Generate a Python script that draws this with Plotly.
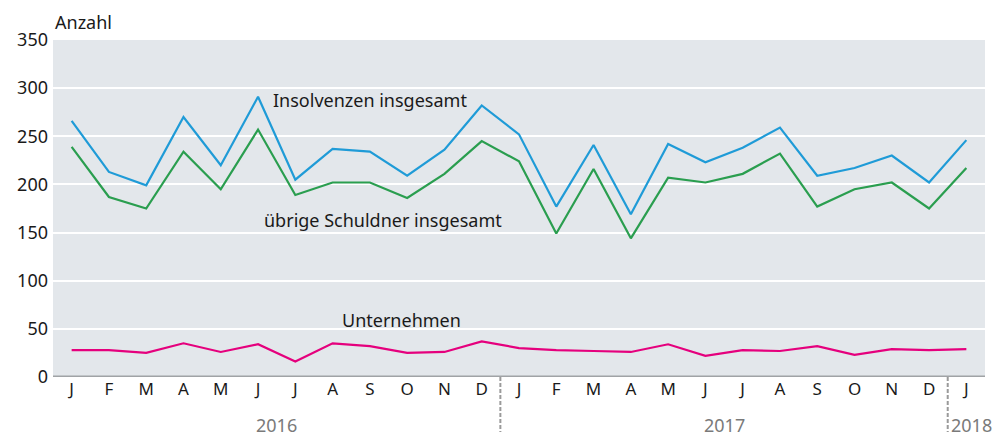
import plotly.graph_objects as go

months = ["J","F","M","A","M","J","J","A","S","O","N","D",
          "J","F","M","A","M","J","J","A","S","O","N","D","J"]
years = ["2016", "2017", "2018"]
insolvenzen = [266,213,199,270,220,291,205,237,234,209,236,282,
               252,177,241,169,242,223,238,259,209,217,230,202,246]
uebrige = [239,187,175,234,195,257,189,202,202,186,211,245,
           224,149,216,144,207,202,211,232,177,195,202,175,217]
unternehmen = [28,28,25,35,26,34,16,35,32,25,26,37,
               30,28,27,26,34,22,28,27,32,23,29,28,29]

x = list(range(len(months)))
FONT = "Source Sans Pro, Noto Sans"

fig = go.Figure()
fig.add_trace(go.Scatter(x=x, y=insolvenzen, mode="lines",
                         line=dict(color="#1f9bd7", width=2.2), hoverinfo="skip"))
fig.add_trace(go.Scatter(x=x, y=uebrige, mode="lines",
                         line=dict(color="#2a9e4f", width=2.2), hoverinfo="skip"))
fig.add_trace(go.Scatter(x=x, y=unternehmen, mode="lines",
                         line=dict(color="#e5007d", width=2.2), hoverinfo="skip"))

# page body has an 8px margin: compensate so the plot lands where the reference has it
fig.update_layout(
    width=985, height=428,
    margin=dict(l=45, r=8, t=32, b=59),
    paper_bgcolor="white", plot_bgcolor="#e3e7eb",
    showlegend=False,
    font=dict(family=FONT, size=16, color="#1a1a1a"),
)
fig.update_xaxes(range=[-0.5, len(months) - 0.5], tickmode="array",
                 tickvals=x, ticktext=months, showgrid=False, zeroline=False,
                 showline=False, ticks="", tickfont=dict(size=17),
                 ticklabelstandoff=0)
fig.update_yaxes(range=[0, 350], tickvals=[0,50,100,150,200,250,300,350],
                 showgrid=True, gridcolor="white", gridwidth=2,
                 zeroline=False, showline=False, ticks="",
                 tickfont=dict(size=18), ticklabelstandoff=4)

# zero baseline
fig.add_shape(type="line", xref="paper", yref="y", x0=0, x1=1, y0=0, y1=0,
              line=dict(color="#a0a3a6", width=3))

# year separators
for sx in [11.5, 23.5]:
    fig.add_shape(type="line", xref="x", yref="paper", x0=sx, x1=sx, y0=0, y1=-0.163,
                  line=dict(color="#9a9a9a", width=2, dash="4px,2px"))

# year labels
for yr, xc in zip(years, [5.5, 17.5, 24.15]):
    fig.add_annotation(text=yr, x=xc, y=-0.142, xref="x", yref="paper",
                       showarrow=False, yanchor="middle",
                       font=dict(size=18, color="#7a7a7a", family=FONT))

fig.add_annotation(text="Anzahl", x=0, xref="paper", y=1.0, yref="paper",
                   xanchor="left", yanchor="bottom", yshift=4, showarrow=False,
                   font=dict(size=18, family=FONT))
fig.add_annotation(text="Insolvenzen insgesamt", x=5.35, y=288, xref="x", yref="y",
                   xanchor="left", yanchor="middle", showarrow=False,
                   font=dict(size=18, family=FONT))
fig.add_annotation(text="übrige Schuldner insgesamt", x=5.1, y=163, xref="x", yref="y",
                   xanchor="left", yanchor="middle", showarrow=False,
                   font=dict(size=18, family=FONT))
fig.add_annotation(text="Unternehmen", x=8.85, y=59, xref="x", yref="y",
                   xanchor="center", yanchor="middle", showarrow=False,
                   font=dict(size=18, family=FONT))

fig.write_html("out.html")
